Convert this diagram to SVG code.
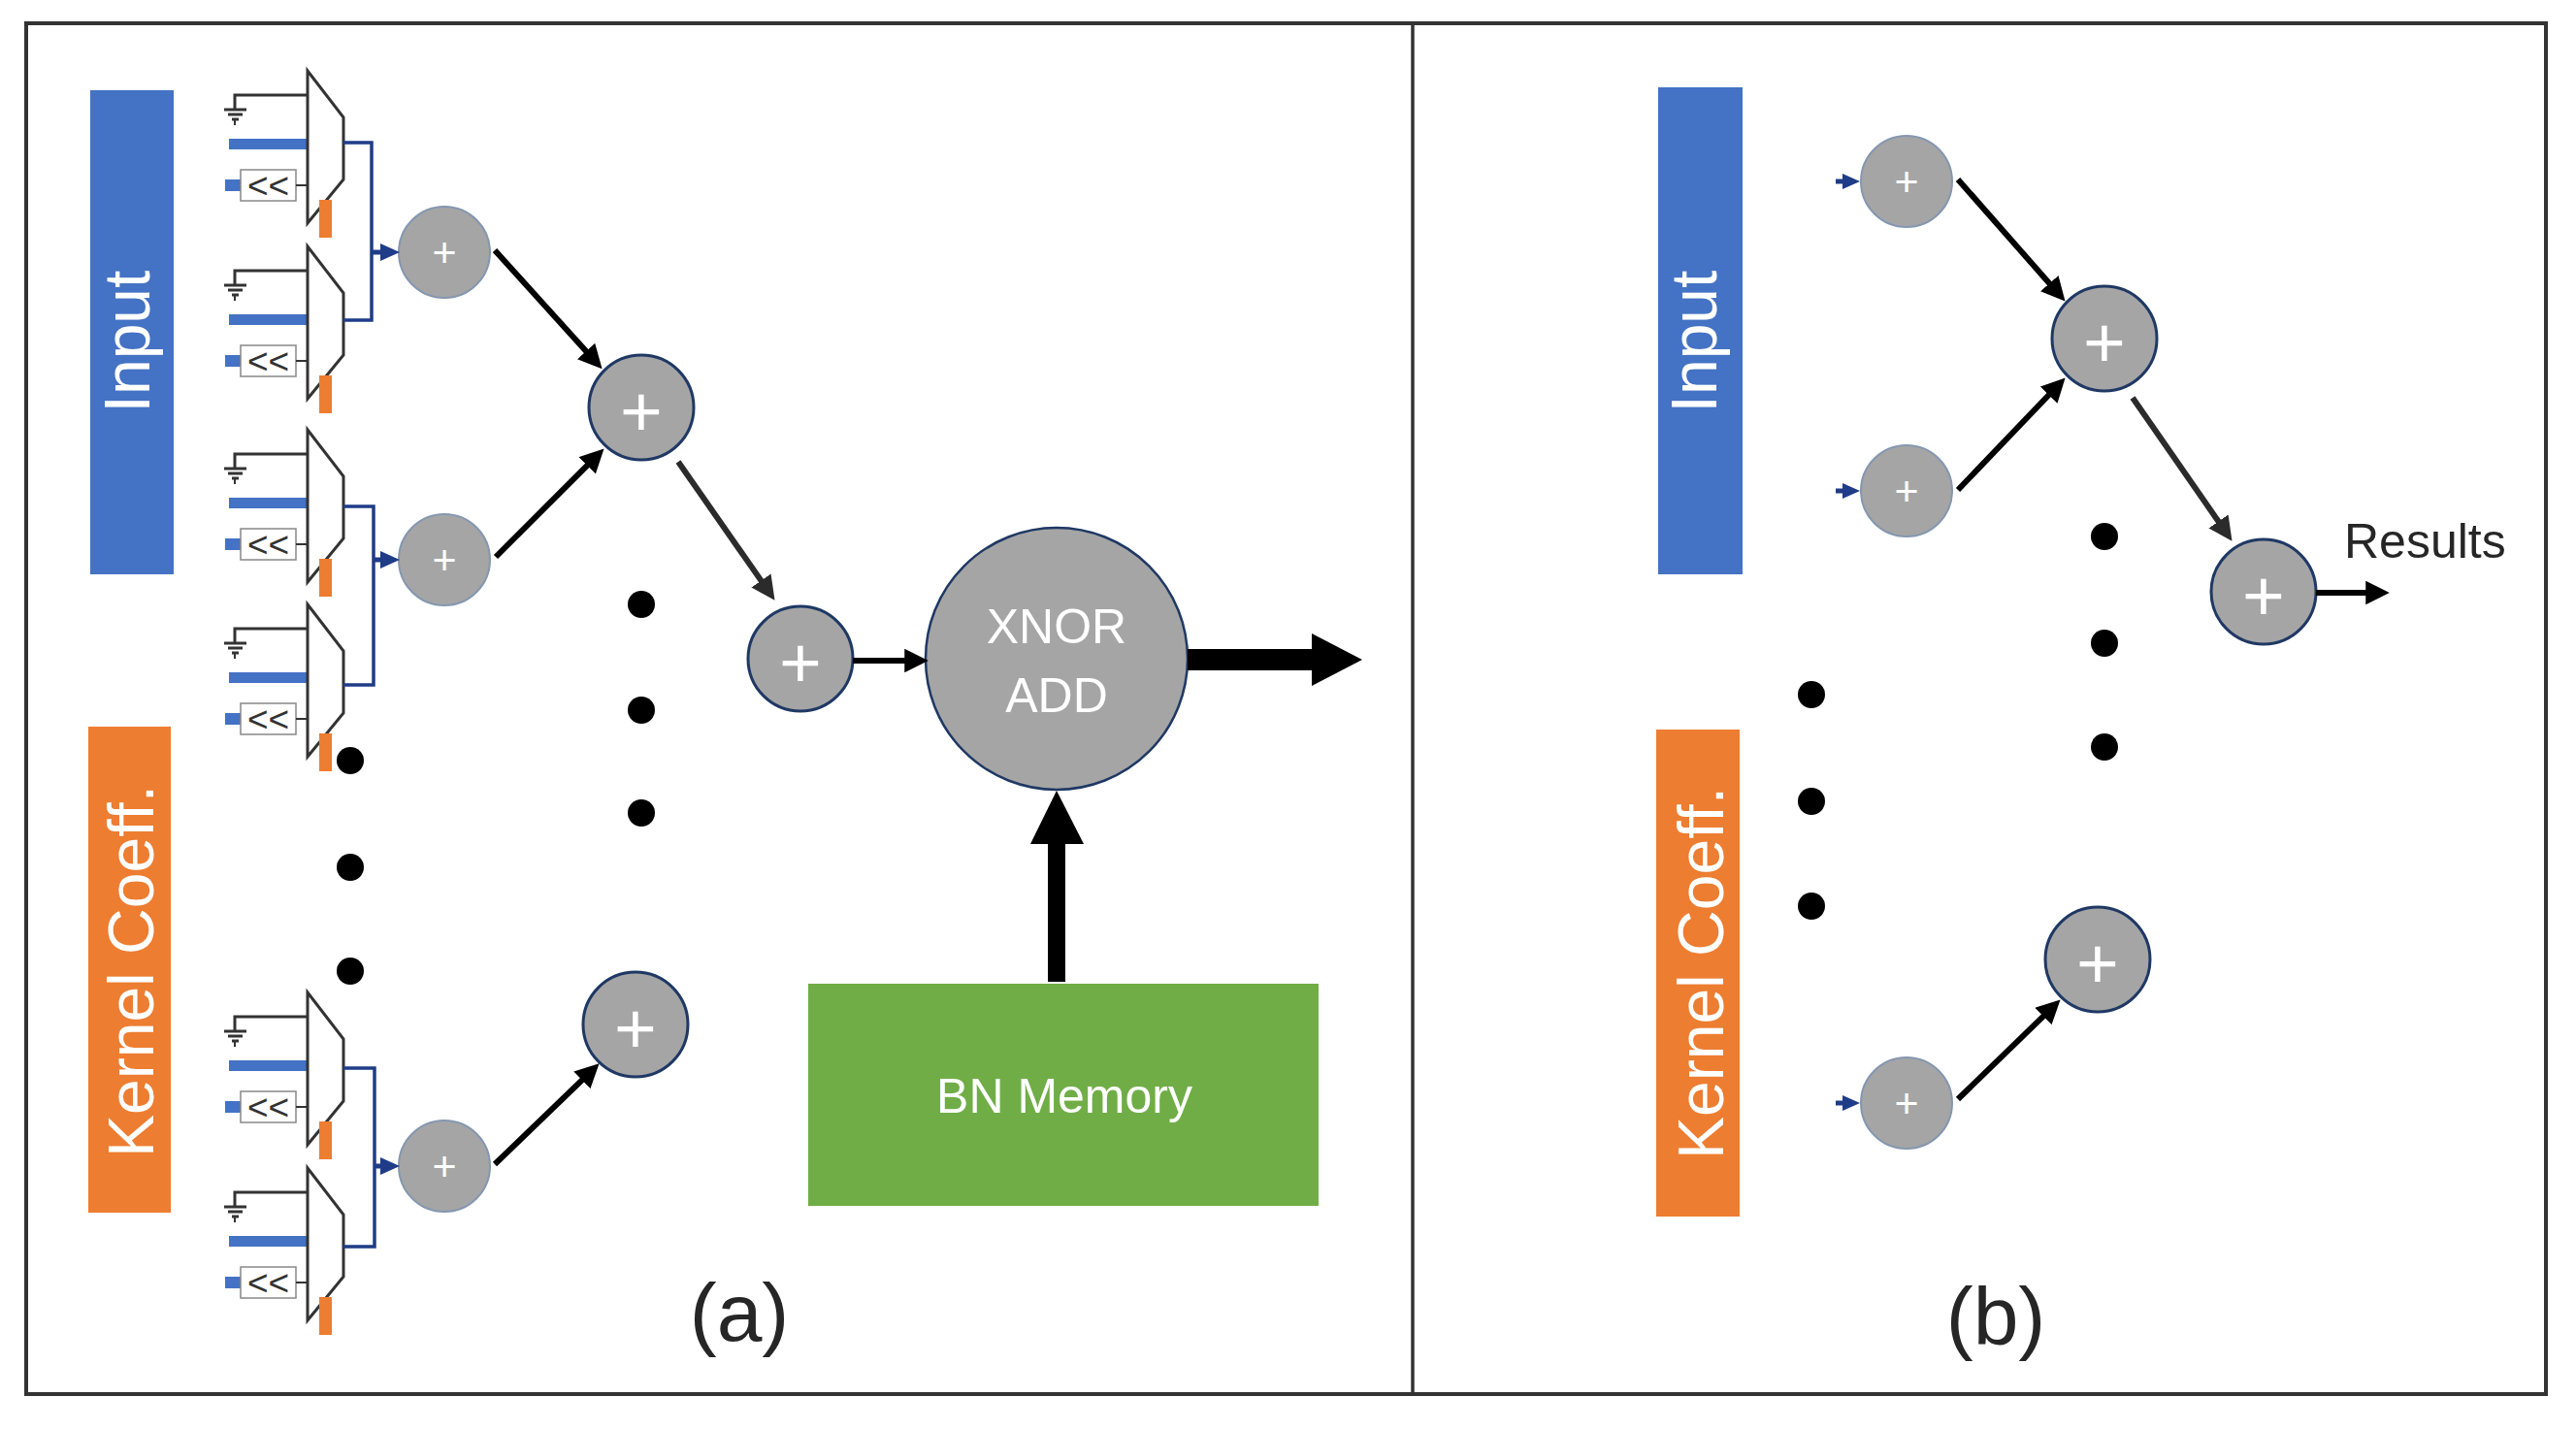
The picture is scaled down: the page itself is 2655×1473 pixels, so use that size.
<svg xmlns="http://www.w3.org/2000/svg" xmlns:xlink="http://www.w3.org/1999/xlink" width="2655" height="1473" viewBox="0 0 2655 1473">
<style>
.frame{fill:none;stroke:#333;stroke-width:4}
.lbl{font-family:"Liberation Sans",Arial,sans-serif;fill:#fff;text-anchor:middle}
.cap{font-family:"Liberation Sans",Arial,sans-serif;fill:#262626}
.sc{fill:#a5a5a5;stroke:#8497b0;stroke-width:2}
.bc{fill:#a5a5a5;stroke:#1f3864;stroke-width:3}
.plus{font-family:"Liberation Sans",Arial,sans-serif;fill:#fff;text-anchor:middle}
.dot{fill:#000}
.arr{stroke:#000;stroke-width:6;fill:none;marker-end:url(#ah)}
.arr2{stroke:#2b2b2b;stroke-width:6;fill:none;marker-end:url(#ah2)}
.wire{fill:none;stroke:#1f3c88;stroke-width:3.5}
.nav{fill:#1f3c88}
.mx{fill:#fff;stroke:#333;stroke-width:3;stroke-linejoin:miter}
.gnd{fill:none;stroke:#333;stroke-width:3}
.blue{fill:#4472c4}
.orange{fill:#ed7d31}
</style>
<defs>
<marker id="ah" viewBox="0 0 10 10" refX="6" refY="5" markerWidth="4.1" markerHeight="4.1" markerUnits="strokeWidth" orient="auto">
<path d="M0,0 L10,5 L0,10 z" fill="#000"/>
</marker>
<marker id="ah2" viewBox="0 0 10 10" refX="6" refY="5" markerWidth="4.1" markerHeight="4.1" markerUnits="strokeWidth" orient="auto">
<path d="M0,0 L10,5 L0,10 z" fill="#2b2b2b"/>
</marker>
<g id="mux">
<polyline class="gnd" points="317,25 242,25 242,40"/>
<line class="gnd" x1="231" y1="40" x2="254" y2="40"/>
<line class="gnd" x1="235" y1="45" x2="250" y2="45"/>
<line class="gnd" x1="239" y1="50" x2="246" y2="50"/>
<line x1="242" y1="50" x2="242" y2="56" stroke="#333" stroke-width="2"/>
<rect class="blue" x="236" y="70" width="81" height="11"/>
<rect class="blue" x="232" y="112" width="16" height="12"/>
<rect x="248" y="102" width="57" height="32" fill="#fff" stroke="#888" stroke-width="1.5"/>
<text x="276.5" y="131" font-family="Liberation Sans, Arial, sans-serif" font-size="37" fill="#333" text-anchor="middle">&lt;&lt;</text>
<line x1="305" y1="118" x2="317" y2="118" stroke="#333" stroke-width="2"/>
<polygon class="mx" points="317,0 354,48 354,112 317,157"/>
<rect class="orange" x="329" y="133" width="13" height="39"/>
</g>
</defs>
<rect x="0" y="0" width="2655" height="1473" fill="#fff"/>
<g id="frame">
<rect class="frame" x="27" y="24" width="2597" height="1413"/>
<line x1="1456" y1="24" x2="1456" y2="1437" stroke="#333" stroke-width="3.5"/>
</g>
<!-- Panel (a) -->
<g id="input-a">
<rect class="blue" x="93" y="93" width="86" height="499"/>
<text class="lbl" font-size="66" x="154" y="352" transform="rotate(-90 154 352)">Input</text>
</g>
<g id="kernel-a">
<rect class="orange" x="91" y="749" width="85" height="501"/>
<text class="lbl" font-size="66" x="158" y="1001" transform="rotate(-90 158 1001)">Kernel Coeff.</text>
</g>
<g id="mux1"><use xlink:href="#mux" transform="translate(0,73)"/></g>
<g id="mux2"><use xlink:href="#mux" transform="translate(0,254)"/></g>
<g id="mux3"><use xlink:href="#mux" transform="translate(0,443)"/></g>
<g id="mux4"><use xlink:href="#mux" transform="translate(0,623)"/></g>
<g id="mux5"><use xlink:href="#mux" transform="translate(0,1023)"/></g>
<g id="mux6"><use xlink:href="#mux" transform="translate(0,1204)"/></g>
<g id="add-a1"><circle class="sc" cx="458" cy="260" r="47"/><text class="plus" font-size="43" x="458" y="275">+</text></g>
<g id="add-a2"><circle class="sc" cx="458" cy="577" r="47"/><text class="plus" font-size="43" x="458" y="592">+</text></g>
<g id="add-a3"><circle class="sc" cx="458" cy="1202" r="47"/><text class="plus" font-size="43" x="458" y="1217">+</text></g>
<g id="add-a4"><circle class="bc" cx="661" cy="420" r="54"/><text class="plus" font-size="75" x="661" y="450">+</text></g>
<g id="add-a5"><circle class="bc" cx="825" cy="679" r="54"/><text class="plus" font-size="75" x="825" y="709">+</text></g>
<g id="add-a6"><circle class="bc" cx="655" cy="1056" r="54"/><text class="plus" font-size="75" x="655" y="1086">+</text></g>
<g id="xnor">
<circle cx="1089" cy="679" r="135" fill="#a5a5a5" stroke="#1f3864" stroke-width="2.5"/>
<text class="lbl" font-size="50" x="1089" y="663">XNOR</text>
<text class="lbl" font-size="50" x="1089" y="734">ADD</text>
</g>
<g id="bn-memory">
<rect x="833" y="1014" width="526" height="229" fill="#70ad47"/>
<text class="lbl" font-size="50" x="1097" y="1147">BN Memory</text>
</g>
<g id="dots-a">
<circle class="dot" cx="361" cy="784" r="14"/>
<circle class="dot" cx="361" cy="894" r="14"/>
<circle class="dot" cx="361" cy="1001" r="14"/>
<circle class="dot" cx="661" cy="623" r="14"/>
<circle class="dot" cx="661" cy="732" r="14"/>
<circle class="dot" cx="661" cy="838" r="14"/>
</g>
<!-- Panel (b) -->
<g id="input-b">
<rect class="blue" x="1709" y="90" width="87" height="502"/>
<text class="lbl" font-size="66" x="1769" y="352" transform="rotate(-90 1769 352)">Input</text>
</g>
<g id="kernel-b">
<rect class="orange" x="1707" y="752" width="86" height="502"/>
<text class="lbl" font-size="66" x="1776" y="1003" transform="rotate(-90 1776 1003)">Kernel Coeff.</text>
</g>
<g id="add-b1"><circle class="sc" cx="1965" cy="187" r="47"/><text class="plus" font-size="43" x="1965" y="202">+</text></g>
<g id="add-b2"><circle class="sc" cx="1965" cy="506" r="47"/><text class="plus" font-size="43" x="1965" y="521">+</text></g>
<g id="add-b3"><circle class="sc" cx="1965" cy="1137" r="47"/><text class="plus" font-size="43" x="1965" y="1152">+</text></g>
<g id="add-b4"><circle class="bc" cx="2169" cy="349" r="54"/><text class="plus" font-size="75" x="2169" y="379">+</text></g>
<g id="add-b5"><circle class="bc" cx="2333" cy="610" r="54"/><text class="plus" font-size="75" x="2333" y="640">+</text></g>
<g id="add-b6"><circle class="bc" cx="2162" cy="989" r="54"/><text class="plus" font-size="75" x="2162" y="1019">+</text></g>
<g id="dots-b">
<circle class="dot" cx="2169" cy="553" r="14"/>
<circle class="dot" cx="2169" cy="663" r="14"/>
<circle class="dot" cx="2169" cy="770" r="14"/>
<circle class="dot" cx="1867" cy="716" r="14"/>
<circle class="dot" cx="1867" cy="826" r="14"/>
<circle class="dot" cx="1867" cy="934" r="14"/>
</g>
<g id="results-label"><text class="cap" font-size="50" x="2416" y="575">Results</text></g>
<g id="captions">
<text class="cap" font-size="84" x="762" y="1382" text-anchor="middle">(a)</text>
<text class="cap" font-size="84" x="2057" y="1386" text-anchor="middle">(b)</text>
</g>
<!-- Connectors -->
<g id="connectors">
<polyline class="wire" points="354,147 383,147 383,330 354,330"/>
<polyline class="wire" points="354,522 385,522 385,706 354,706"/>
<polyline class="wire" points="354,1101 386,1101 386,1285 354,1285"/>
<line x1="383" y1="260" x2="395" y2="260" stroke="#1f3c88" stroke-width="5"/>
<polygon class="nav" points="392,251 412,260 392,269"/>
<line x1="385" y1="577" x2="395" y2="577" stroke="#1f3c88" stroke-width="5"/>
<polygon class="nav" points="392,568 412,577 392,586"/>
<line x1="386" y1="1202" x2="395" y2="1202" stroke="#1f3c88" stroke-width="5"/>
<polygon class="nav" points="392,1193 412,1202 392,1211"/>
<line class="arr" x1="510" y1="258" x2="614" y2="373"/>
<line class="arr" x1="511" y1="574" x2="615.6" y2="469.4"/>
<line class="arr2" x1="699" y1="476" x2="792.9" y2="610.6"/>
<line class="arr" x1="879" y1="681" x2="947" y2="681"/>
<line class="arr" x1="510" y1="1200" x2="610.5" y2="1103.2"/>
<rect x="1224" y="669" width="130" height="22" fill="#000"/>
<polygon points="1352,653 1404,680 1352,707" fill="#000"/>
<rect x="1080" y="866" width="18" height="146" fill="#000"/>
<polygon points="1062,870 1089,815 1117,870" fill="#000"/>
<line x1="1892" y1="187" x2="1902" y2="187" stroke="#1f3c88" stroke-width="5"/>
<polygon class="nav" points="1899,179 1917,187 1899,195"/>
<line x1="1892" y1="506" x2="1902" y2="506" stroke="#1f3c88" stroke-width="5"/>
<polygon class="nav" points="1899,498 1917,506 1899,514"/>
<line x1="1892" y1="1137" x2="1902" y2="1137" stroke="#1f3c88" stroke-width="5"/>
<polygon class="nav" points="1899,1129 1917,1137 1899,1145"/>
<line class="arr" x1="2018" y1="185" x2="2122" y2="303.2"/>
<line class="arr" x1="2018" y1="505" x2="2121.8" y2="396.5"/>
<line class="arr2" x1="2198" y1="410" x2="2294.9" y2="549.6"/>
<line class="arr" x1="2018" y1="1133" x2="2116.5" y2="1037.3"/>
<line class="arr" x1="2387" y1="611" x2="2453" y2="611"/>
</g>
</svg>
